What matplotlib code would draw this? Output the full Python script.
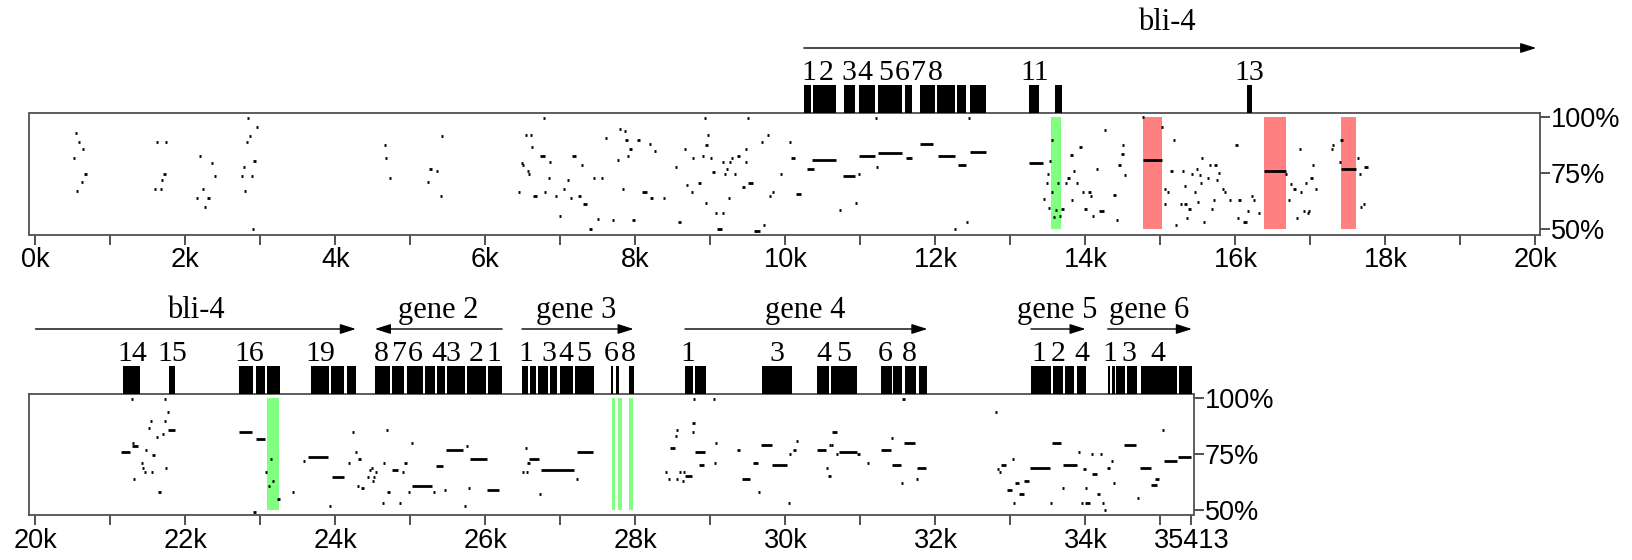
import numpy as np
import matplotlib
matplotlib.use('Agg')
import matplotlib.pyplot as plt

plt.rcParams['font.family'] = ['Liberation Sans', 'DejaVu Sans']

# percent identity segments: (start bp, end bp, % identity)
top_pip = [
    (527, 552, 92.7), (574, 586, 88.7), (631, 643, 85.6), (503, 528, 81.7), (645, 685, 74.7),
    (608, 633, 70.8), (551, 563, 66.8), (1608, 1640, 88.7), (1737, 1749, 88.7), (1708, 1733, 74.7),
    (1684, 1696, 71.8), (1584, 1609, 67.8), (1670, 1682, 67.8), (2179, 2204, 82.7), (2346, 2358, 79.7),
    (2375, 2400, 73.7), (2217, 2242, 67.8), (2145, 2170, 63.9), (2290, 2330, 63.9), (2250, 2270, 59.9),
    (2822, 2834, 99.7), (2936, 2961, 95.6), (2850, 2862, 91.7), (2812, 2824, 88.7), (2908, 2933, 80.6),
    (2769, 2781, 77.7), (2741, 2766, 73.7), (2874, 2899, 73.7), (2788, 2800, 66.8), (2898, 2910, 50.0),
    (4646, 4671, 87.7), (4665, 4677, 81.7), (4717, 4742, 72.7), (5245, 5285, 76.8), (5336, 5361, 75.8),
    (5232, 5244, 70.8), (5417, 5429, 91.7), (5393, 5418, 64.7),
    (6538, 6550, 91.8), (6596, 6608, 91.8), (6607, 6632, 86.6), (6724, 6795, 82.8), (6480, 6492, 79.5),
    (6493, 6505, 78.6), (6560, 6572, 75.8), (6578, 6590, 74.8), (6436, 6461, 66.7), (6640, 6684, 64.9),
    (6782, 6794, 66.7), (6840, 6852, 72.9), (6858, 6870, 79.8), (6769, 6781, 99.4), (6938, 6950, 64.9),
    (6991, 7003, 55.8), (7040, 7052, 67.9), (7093, 7105, 71.7), (7138, 7150, 63.8), (7151, 7205, 82.8),
    (7227, 7271, 64.9), (7284, 7296, 78.6), (7297, 7351, 61.0), (7388, 7413, 49.9), (7436, 7448, 72.9),
    (7547, 7559, 72.9), (7484, 7520, 54.7), (7604, 7616, 90.6), (7690, 7715, 53.9), (7790, 7805, 94.6),
    (7853, 7865, 93.7), (7858, 7894, 89.9), (8022, 8066, 89.9), (7925, 7942, 85.7), (7895, 7917, 82.8),
    (7758, 7780, 80.9), (7822, 7834, 67.9), (7947, 7991, 53.9), (8089, 8160, 66.7), (8191, 8227, 63.8),
    (8182, 8194, 87.9), (8247, 8269, 84.7), (8369, 8381, 63.8), (8529, 8541, 77.9), (8569, 8613, 53.0),
    (8653, 8665, 85.7), (8673, 8695, 69.8), (8742, 8754, 66.7), (8756, 8768, 81.7), (8840, 8876, 70.7),
    (8885, 8911, 82.8), (8933, 8945, 61.7), (8924, 8936, 99.4), (8938, 8956, 87.6), (8958, 8980, 91.8),
    (8991, 9017, 81.7), (9029, 9051, 75.7), (9062, 9074, 57.0), (9164, 9176, 57.0), (9085, 9147, 49.9),
    (9160, 9172, 79.8), (9258, 9270, 79.8), (9187, 9199, 74.8), (9218, 9230, 76.7), (9240, 9252, 63.8),
    (9271, 9297, 81.7), (9318, 9340, 74.8), (9347, 9400, 82.8), (9418, 9454, 68.8), (9471, 9483, 79.8),
    (9462, 9474, 85.7), (9489, 9501, 99.4), (9502, 9564, 70.7), (9586, 9658, 49.0), (9675, 9693, 88.7),
    (9711, 9723, 52.0), (9764, 9776, 91.8), (9780, 9802, 64.9), (9825, 9847, 66.7), (9929, 9941, 74.8),
    (10045, 10071, 88.7), (10080, 10124, 81.7), (10142, 10204, 65.8), (10284, 10382, 76.7),
    (10360, 10680, 80.7), (10716, 10728, 58.7),
    (10765, 10921, 73.7), (10936, 10948, 61.8), (10975, 10987, 74.7), (10979, 11193, 82.7),
    (11217, 11229, 77.7), (11232, 11560, 83.9), (11607, 11684, 81.7), (11793, 11969, 87.8),
    (12027, 12255, 82.7), (12299, 12408, 78.7), (12260, 12272, 50.0), (12420, 12432, 53.0),
    (12455, 12669, 84.6), (11198, 11210, 99.7), (12445, 12457, 99.7), (13241, 13432, 79.7),
    (13440, 13465, 63.5), (13480, 13492, 70.5), (13500, 13512, 74.5), (13505, 13517, 59.3),
    (13520, 13532, 80.5), (13545, 13557, 89.6), (13550, 13562, 66.7), (13565, 13590, 55.6),
    (13600, 13625, 58.6), (13630, 13642, 70.5),
    (13660, 13672, 56.0), (13680, 13715, 58.9), (13726, 13748, 70.7), (13767, 13779, 72.9),
    (13807, 13819, 82.9), (13835, 13861, 75.9), (13882, 13894, 70.7), (13820, 13832, 62.9),
    (13927, 13939, 86.7), (13962, 13974, 66.7), (14047, 14059, 66.7), (13975, 14019, 58.9),
    (14064, 14076, 64.8), (14096, 14108, 56.0), (14144, 14156, 76.9), (14185, 14247, 57.9),
    (14256, 14268, 94.0), (14367, 14403, 65.1), (14409, 14431, 53.9), (14433, 14469, 78.7),
    (14487, 14499, 83.6), (14500, 14512, 87.7), (14520, 14536, 74.0), (14763, 14775, 99.9),
    (14763, 15017, 80.8), (15015, 15031, 95.7), (15180, 15192, 89.8), (15060, 15072, 67.8),
    (15091, 15103, 66.7), (15060, 15072, 61.1), (15127, 15171, 75.9), (15200, 15222, 52.0),
    (15265, 15277, 61.1), (15318, 15354, 61.1), (15291, 15303, 75.9), (15318, 15330, 69.1),
    (15344, 15356, 54.9), (15362, 15406, 58.9), (15411, 15423, 74.7), (15478, 15490, 76.9),
    (15445, 15467, 66.7), (15500, 15512, 61.9), (15513, 15531, 74.0), (15540, 15552, 70.7),
    (15553, 15565, 81.8), (15567, 15585, 53.0), (15624, 15636, 72.9), (15647, 15665, 78.7),
    (15727, 15739, 78.7), (15682, 15700, 58.9), (15709, 15721, 62.9), (15749, 15767, 71.8),
    (15769, 15791, 74.9), (15829, 15841, 67.8), (15851, 15863, 66.7), (15918, 15930, 62.9),
    (16007, 16019, 87.7), (16029, 16041, 54.9), (16034, 16078, 62.9), (16105, 16149, 53.0),
    (16151, 16173, 57.9), (16216, 16228, 64.8), (16233, 16251, 62.9), (16309, 16321, 57.0),
    (16380, 16673, 75.9), (16673, 16685, 74.7), (16698, 16720, 62.9), (16729, 16751, 70.0),
    (16767, 16803, 67.8), (16814, 16836, 54.9), (16851, 16863, 85.8), (16864, 16882, 66.7),
    (16898, 16920, 57.9), (16971, 16983, 57.9), (16958, 16970, 57.0), (16940, 16952, 70.7),
    (17007, 17019, 72.9), (17020, 17038, 78.7), (17064, 17082, 67.8), (17296, 17308, 87.7),
    (17282, 17294, 85.8), (17407, 17419, 89.8), (17385, 17397, 79.9), (17407, 17607, 76.8),
    (17622, 17644, 81.8), (17651, 17663, 74.7), (17718, 17762, 77.8), (17664, 17682, 59.9),
    (17704, 17716, 61.1),
]

bottom_pip = [
    (21280, 21292, 99.6), (21716, 21728, 99.6), (21764, 21776, 93.7), (21529, 21541, 89.6),
    (21716, 21728, 89.6), (21511, 21523, 86.6), (21773, 21862, 85.6), (21689, 21711, 83.7),
    (21609, 21631, 82.7), (21293, 21305, 79.7), (21293, 21364, 78.7), (21465, 21487, 76.7),
    (21138, 21262, 75.6), (21562, 21584, 74.6), (21409, 21421, 70.8), (21431, 21443, 68.7),
    (21453, 21465, 66.8), (21547, 21559, 66.8), (21738, 21750, 68.7), (21300, 21322, 63.7),
    (21642, 21664, 57.8), (22707, 22884, 84.7), (22938, 23062, 81.8), (23129, 23141, 72.7),
    (23071, 23083, 66.8), (23158, 23180, 62.8), (23100, 23122, 60.8), (23222, 23266, 54.9),
    (22898, 22934, 49.0), (23425, 23447, 57.8), (23571, 23593, 71.6), (23636, 23902, 73.7),
    (23918, 23940, 51.8), (23947, 24107, 64.7), (24224, 24246, 84.7), (24262, 24274, 75.6),
    (24309, 24331, 72.7), (24164, 24200, 70.8), (24293, 24305, 60.8), (24349, 24371, 59.7),
    (24422, 24434, 64.7), (24458, 24470, 67.7), (24480, 24492, 68.7), (24507, 24519, 64.7),
    (24493, 24505, 62.8), (24529, 24541, 66.8), (24622, 24634, 52.8), (24638, 24660, 70.8),
    (24676, 24688, 85.8), (24689, 24725, 57.8), (24751, 24840, 67.7), (24851, 24873, 52.8),
    (24893, 24905, 66.8), (24922, 24944, 70.8), (24964, 25000, 57.8), (25009, 25021, 79.7),
    (25018, 25293, 60.8), (25304, 25326, 57.8), (25338, 25435, 69.7), (25453, 25465, 58.8),
    (25480, 25702, 76.7), (25718, 25740, 51.8), (25751, 25763, 78.7), (25773, 25785, 59.7),
    (25795, 26017, 72.7), (26026, 26177, 58.8), (26537, 26549, 77.7), (26568, 26580, 70.8),
    (26586, 26711, 72.7), (26491, 26513, 66.8), (26544, 26566, 66.8), (26724, 26736, 56.8),
    (26746, 27182, 67.7), (27215, 27227, 63.9), (27220, 27440, 75.9),
    (28776, 28788, 99.7), (29043, 29055, 99.7), (31567, 31579, 99.7), (32805, 32817, 93.7),
    (28767, 28779, 88.7), (28757, 28769, 84.9), (28543, 28555, 85.7), (28533, 28545, 82.8),
    (28457, 28523, 77.8), (28790, 28933, 75.9), (29062, 29074, 79.7), (29052, 29064, 70.9),
    (28843, 28909, 70.0), (28399, 28421, 66.9), (28579, 28601, 66.9), (28642, 28654, 66.9),
    (28437, 28449, 63.8), (28551, 28563, 63.8), (28627, 28639, 62.9), (28662, 28748, 64.9),
    (29367, 29379, 76.8), (29419, 29524, 63.8), (29571, 29629, 70.9), (29641, 29663, 57.9),
    (29676, 29819, 78.8), (29824, 30024, 70.0), (30038, 30050, 52.9), (30148, 30160, 80.7),
    (30114, 30126, 76.8), (30052, 30064, 74.9), (30419, 30543, 76.8), (30586, 30598, 78.8),
    (30610, 30622, 78.8), (30615, 30681, 84.9), (30548, 30560, 68.8), (30581, 30593, 64.9),
    (30710, 30948, 75.9), (30686, 30698, 74.9), (30967, 30979, 74.9), (31100, 31112, 70.9),
    (31271, 31405, 76.8), (31414, 31426, 81.9), (31576, 31729, 79.7), (31419, 31543, 70.0),
    (31757, 31871, 68.8), (31743, 31755, 63.8), (31552, 31564, 61.9), (32833, 32845, 68.0),
    (32852, 32864, 67.0), (32877, 32943, 70.0), (33029, 33041, 72.8), (33032, 33054, 52.9),
    (32948, 33014, 59.0), (33066, 33114, 61.9), (33186, 33252, 62.9), (33115, 33181, 56.9),
    (33257, 33524, 68.8), (33529, 33541, 52.9), (33552, 33676, 79.7), (33695, 33707, 59.9),
    (33705, 33886, 70.0), (33908, 33930, 75.9), (33981, 33993, 68.0), (33952, 33964, 52.9),
    (34000, 34058, 52.9), (33995, 34007, 59.9), (34081, 34093, 74.9), (34200, 34212, 74.9),
    (34090, 34148, 65.9), (34167, 34179, 56.9), (34222, 34244, 52.9), (34251, 34273, 50.0),
    (34289, 34323, 68.8), (34352, 34364, 71.9), (34371, 34383, 61.9), (34510, 34671, 78.8),
    (34689, 34711, 55.0), (34733, 34867, 68.8), (34876, 34952, 60.9), (34926, 34986, 63.8),
    (35033, 35045, 85.7), (35052, 35214, 71.9), (35233, 35405, 73.8),
]

# shaded regions (start, end)
top_green = [(13540, 13672)]
top_red = [(14763, 15017), (16380, 16673), (17407, 17607)]
bottom_green = [(23084, 23244), (27689, 27728), (27772, 27815), (27919, 27973)]
bottom_red = []

# exons (start, end)
top_exons = [(10245, 10336), (10365, 10669), (10775, 10932), (10979, 11193), (11232, 11560),
             (11588, 11693), (11793, 11993), (12021, 12265), (12288, 12408), (12455, 12669),
             (13241, 13384), (13590, 13690), (16160, 16220)]
bottom_exons = [(21172, 21398), (21783, 21862), (22711, 22901), (22938, 23059), (23091, 23255),
                (23676, 23913), (23945, 24113), (24156, 24272),
                (24525, 24731), (24757, 24915), (24957, 25167), (25193, 25327), (25352, 25457),
                (25484, 25721), (25748, 26012), (26038, 26222),
                (26486, 26565), (26591, 26670), (26697, 26828), (26855, 26960), (26987, 27171),
                (27197, 27445), (27675, 27705), (27737, 27775), (27907, 27980),
                (28660, 28765), (28792, 28940), (29688, 30084), (30416, 30575), (30611, 30953),
                (31280, 31417), (31439, 31560), (31587, 31744), (31776, 31892),
                (33273, 33537), (33563, 33695), (33721, 33853), (33891, 34001),
                (34296, 34328), (34353, 34392), (34412, 34528), (34553, 34687), (34740, 35224),
                (35251, 35419)]

# exon numbers (label, position)
top_exon_nums = [('1', 10307), ('2', 10548), ('3', 10841), ('4', 11060), ('5', 11331),
                 ('6', 11551), ('7', 11769), ('8', 12004), ('11', 13327), ('13', 16180)]
bottom_exon_nums = [('14', 21293), ('15', 21820), ('16', 22848), ('19', 23797),
                    ('8', 24614), ('7', 24852), ('6', 25063), ('4', 25379), ('3', 25563),
                    ('2', 25880), ('1', 26117),
                    ('1', 26535), ('3', 26844), ('4', 27066), ('5', 27303), ('6', 27673), ('8', 27907),
                    ('1', 28703), ('3', 29888), ('4', 30511), ('5', 30769), ('6', 31323), ('8', 31655),
                    ('1', 33379), ('2', 33632), ('4', 33948),
                    ('1', 34327), ('3', 34580), ('4', 34971)]

# genes: (name, label position, arrow tail, arrow head)
top_genes = [('bli-4', 15083, 10245, 20010)]
bottom_genes = [('bli-4', 22136, 20000, 24272), ('gene 2', 25367, 26222, 24525),
                ('gene 3', 27207, 26486, 27975), ('gene 4', 30268, 28660, 31892),
                ('gene 5', 33620, 33273, 34001), ('gene 6', 34855, 34296, 35419)]

top_ticks = [0, 2000, 4000, 6000, 8000, 10000, 12000, 14000, 16000, 18000, 20000]
top_ticklabels = ['0k', '2k', '4k', '6k', '8k', '10k', '12k', '14k', '16k', '18k', '20k']
top_minor = [1000, 3000, 5000, 7000, 9000, 11000, 13000, 15000, 17000, 19000]
bottom_ticks = [20000, 22000, 24000, 26000, 28000, 30000, 32000, 34000, 35413]
bottom_ticklabels = ['20k', '22k', '24k', '26k', '28k', '30k', '32k', '34k', '35413']
bottom_minor = [21000, 23000, 25000, 27000, 29000, 31000, 33000, 35000]

pct_ticks = [50, 75, 100]
pct_labels = ['50%', '75%', '100%']

W, H = 1633, 560
fig = plt.figure(figsize=(W / 100, H / 100), dpi=100)


def px_rect(x0, y0, x1, y1):
    # pixel box (top-left origin) -> figure fraction
    return [x0 / W, 1 - y1 / H, (x1 - x0) / W, (y1 - y0) / H]


def draw_pip(rect, xlim, segs, green, red, ticks, ticklabels, minor):
    ax = fig.add_axes(rect)
    for s, e in green:
        ax.bar(s, 49.8, width=e - s, bottom=50, align='edge', color='#80ff80', lw=0, zorder=1)
    for s, e in red:
        ax.bar(s, 49.8, width=e - s, bottom=50, align='edge', color='#ff8080', lw=0, zorder=1)
    seg = np.array(segs, dtype=float)
    # short hits still get drawn about 2 px wide
    mid = (seg[:, 0] + seg[:, 1]) / 2
    half = np.maximum((seg[:, 1] - seg[:, 0]) / 2, 14)
    ax.hlines(seg[:, 2], mid - half, mid + half, colors='black', lw=2.0, capstyle='butt', zorder=3)
    ax.set_xlim(*xlim)
    ax.set_ylim(47.6, 101.8)
    ax.set_xticks(ticks, ticklabels)
    ax.set_xticks(minor, minor=True)
    ax.yaxis.tick_right()
    ax.set_yticks(pct_ticks, pct_labels)
    ax.tick_params(axis='both', which='both', direction='out', length=7, width=1.2,
                   color='#333333', labelsize=19.5, pad=2)
    ax.tick_params(axis='y', pad=1)
    for sp in ax.spines.values():
        sp.set_color('#505050')
        sp.set_linewidth(1.3)
    return ax


def draw_track(rect, xlim, height, exons, nums, genes, label_y):
    ax = fig.add_axes(rect)
    ax.set_xlim(*xlim)
    ax.set_ylim(0, height)
    ax.axis('off')
    for s, e in exons:
        ax.bar(s, 28, width=e - s, bottom=0, align='edge', color='black', lw=0)
    for txt, x in nums:
        ax.text(x, 33, txt, ha='center', va='baseline', family='Liberation Serif', fontsize=21.5)
    for name, x, a0, a1 in genes:
        ax.annotate('', xy=(a1, 65), xytext=(a0, 65),
                    arrowprops=dict(arrowstyle='-|>,head_length=0.63,head_width=0.2',
                                    mutation_scale=15, lw=1, color='black',
                                    shrinkA=0, shrinkB=0))
        ax.text(x, label_y, name, ha='center', va='baseline', family='Liberation Serif', fontsize=22)
    return ax


top_xlim = (-80, 20055)
bottom_xlim = (19920, 35440)

draw_pip(px_rect(29.5, 113, 1539.6, 234.5), top_xlim, top_pip, top_green, top_red,
         top_ticks, top_ticklabels, top_minor)
draw_track(px_rect(29.5, 0, 1539.6, 113), top_xlim, 113, top_exons, top_exon_nums, top_genes, 83)

draw_pip(px_rect(29.5, 394, 1193.5, 515), bottom_xlim, bottom_pip, bottom_green, bottom_red,
         bottom_ticks, bottom_ticklabels, bottom_minor)
draw_track(px_rect(29.5, 275, 1193.5, 394), bottom_xlim, 119, bottom_exons, bottom_exon_nums,
           bottom_genes, 76)

fig.savefig('out.png', dpi=100)
